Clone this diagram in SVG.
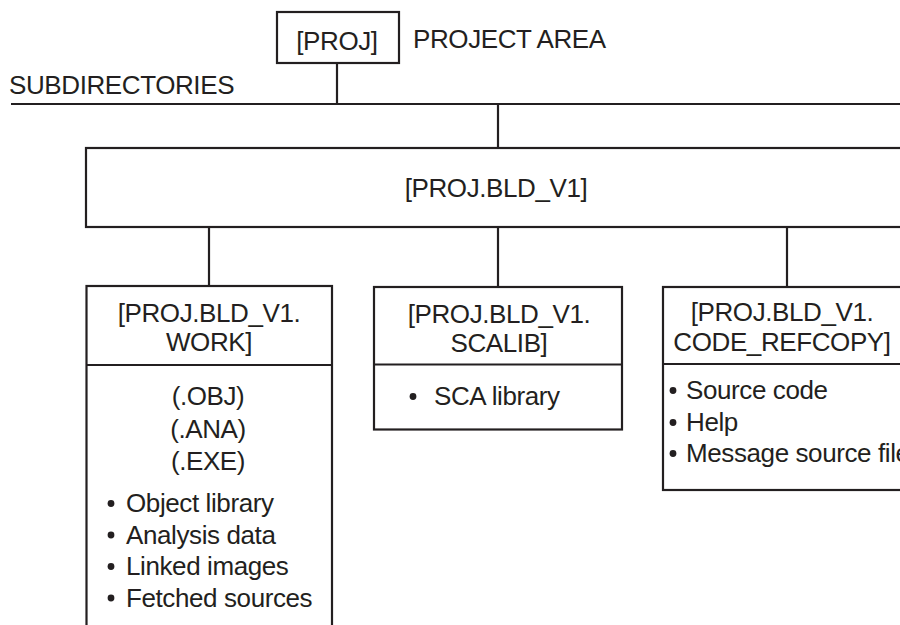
<svg xmlns="http://www.w3.org/2000/svg" width="900" height="625" viewBox="0 0 900 625">
<style>
.box{fill:#fff;stroke:#231f20;stroke-width:2.2}
.ln{stroke:#231f20;stroke-width:2.2;fill:none}
text{font-family:"Liberation Sans",Arial,sans-serif;font-size:26px;letter-spacing:-0.4px;fill:#231f20}
.c{text-anchor:middle}
</style>
<rect width="900" height="625" fill="#fff"/>
<g id="connectors">
<line class="ln" x1="337" y1="63" x2="337" y2="104"/>
<line class="ln" x1="11" y1="104" x2="905" y2="104"/>
<line class="ln" x1="498" y1="104" x2="498" y2="148"/>
<line class="ln" x1="209" y1="227" x2="209" y2="286"/>
<line class="ln" x1="498" y1="227" x2="498" y2="287"/>
<line class="ln" x1="787" y1="227" x2="787" y2="287"/>
</g>
<g id="proj">
<rect class="box" x="277" y="12" width="122" height="51"/>
<text class="c" x="337" y="50">[PROJ]</text>
<text x="413" y="48">PROJECT AREA</text>
</g>
<g id="subdirectories">
<text x="9" y="94">SUBDIRECTORIES</text>
</g>
<g id="bld">
<rect class="box" x="86" y="148" width="830" height="79"/>
<text class="c" x="496" y="197">[PROJ.BLD_V1]</text>
</g>
<g id="work">
<rect class="box" x="86.5" y="286" width="245.5" height="350"/>
<line class="ln" x1="86.5" y1="365" x2="332" y2="365"/>
<text class="c" x="209" y="322">[PROJ.BLD_V1.</text>
<text class="c" x="209" y="351">WORK]</text>
<text class="c" x="208" y="405">(.OBJ)</text>
<text class="c" x="208" y="438">(.ANA)</text>
<text class="c" x="208" y="470">(.EXE)</text>
<circle cx="111" cy="503.5" r="3.4" fill="#231f20"/>
<text x="126" y="512">Object library</text>
<circle cx="111" cy="535" r="3.4" fill="#231f20"/>
<text x="126" y="543.5">Analysis data</text>
<circle cx="111" cy="566.5" r="3.4" fill="#231f20"/>
<text x="126" y="575">Linked images</text>
<circle cx="111" cy="598" r="3.4" fill="#231f20"/>
<text x="126" y="606.5">Fetched sources</text>
</g>
<g id="scalib">
<rect class="box" x="374" y="287" width="248" height="142.5"/>
<line class="ln" x1="374" y1="364.5" x2="622" y2="364.5"/>
<text class="c" x="499" y="323">[PROJ.BLD_V1.</text>
<text class="c" x="499" y="352">SCALIB]</text>
<circle cx="413" cy="396.5" r="3.4" fill="#231f20"/>
<text x="434" y="405">SCA library</text>
</g>
<g id="refcopy">
<rect class="box" x="663" y="287" width="260" height="203"/>
<line class="ln" x1="663" y1="364" x2="923" y2="364"/>
<text class="c" x="782" y="321">[PROJ.BLD_V1.</text>
<text class="c" x="782" y="351">CODE_REFCOPY]</text>
<circle cx="673" cy="390.5" r="3.4" fill="#231f20"/>
<text x="686" y="399">Source code</text>
<circle cx="673" cy="422.5" r="3.4" fill="#231f20"/>
<text x="686" y="431">Help</text>
<circle cx="673" cy="453.5" r="3.4" fill="#231f20"/>
<text x="686" y="462">Message source file</text>
</g>
</svg>
